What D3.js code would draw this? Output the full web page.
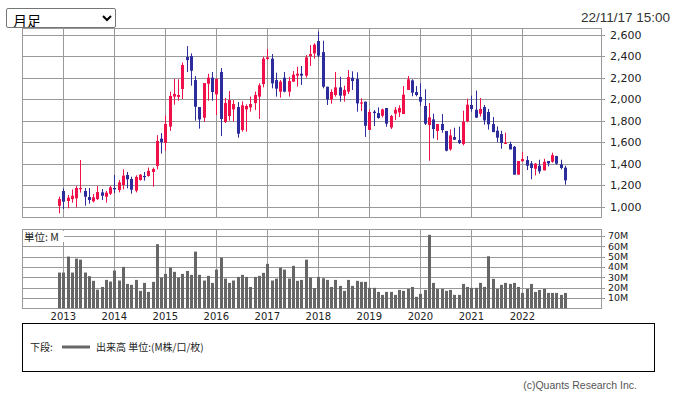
<!DOCTYPE html>
<html><head><meta charset="utf-8">
<script src="https://cdn.jsdelivr.net/npm/d3@7/dist/d3.min.js"></script>
<style>
html,body{margin:0;padding:0;background:#fff;}
#wrap{position:relative;width:676px;height:396px;overflow:hidden;}
svg{position:absolute;left:0;top:0;}
select{position:absolute;left:6px;top:8px;width:110px;height:20px;font-size:14px;font-family:"Noto Sans CJK JP",sans-serif;padding:0 2px;border:1px solid #767676;border-radius:2px;background:#fff;color:#000;}
</style></head>
<body><div id="wrap"><select><option>月足</option></select></div>
<script>
// Monthly candles, Dec 2012 .. Nov 2022
const startMonth = "2012-12";
const open = [1009,1146,1053,1071,1078,1165,1146,1090,1050,1071,
1133,1093,1121,1174,1155,1202,1295,1258,1149,1248,
1286,1286,1323,1379,1633,1593,1745,2024,2021,2095,
2392,2401,2178,1927,1828,2144,2200,2045,2253,1788,
1843,1905,1927,1713,1905,1924,1964,2024,2141,2374,
2377,2178,2070,2200,2070,2163,2219,2237,2219,2401,
2426,2541,2438,2116,1998,2039,2110,2033,2070,2200,
2188,1961,1977,1714,1884,1871,1846,1918,1738,1865,
1877,1862,2086,2175,2067,2021,1937,1760,1812,1704,
1769,1704,1534,1648,1620,1583,1794,1946,1902,1865,
1927,1881,1769,1707,1676,1589,1583,1558,1298,1422,
1434,1403,1353,1381,1338,1425,1418,1471,1394,1363];
const high = [1093,1171,1109,1161,1192,1434,1174,1174,1118,1192,
1164,1146,1195,1295,1248,1348,1323,1279,1292,1304,
1323,1364,1364,1665,1685,1848,2071,2188,2185,2340,
2494,2426,2216,1927,2150,2237,2253,2194,2290,2011,
2076,1992,1974,1980,1952,2024,2071,2148,2396,2467,
2420,2247,2178,2253,2209,2262,2302,2309,2411,2504,
2520,2630,2544,2116,2092,2253,2209,2126,2271,2259,
2250,2008,1977,1905,1899,1924,1912,1918,1853,1927,
1943,2122,2216,2185,2122,2148,2092,1964,1865,1769,
1862,1704,1719,1735,1744,1893,2005,2033,2080,2011,
1946,1909,1834,1747,1707,1689,1605,1564,1425,1508,
1471,1425,1406,1437,1446,1425,1502,1474,1437,1381];
const low = [938,979,985,1037,994,1131,1009,1028,1040,1062,
1062,1037,1109,1127,1133,1161,1171,1121,1133,1242,
1242,1279,1186,1348,1494,1519,1705,1949,1986,2002,
2253,2126,1800,1726,1791,1986,1986,1853,1657,1779,
1800,1791,1642,1698,1698,1884,1899,1816,2110,2365,
2101,2024,2014,2064,2024,2163,2117,2132,2200,2309,
2377,2390,2101,1946,1958,2024,1977,1977,2048,2086,
1884,1890,1649,1714,1750,1819,1831,1744,1723,1806,
1834,1862,2086,2027,2027,1937,1760,1428,1635,1620,
1688,1515,1521,1620,1583,1570,1785,1884,1828,1840,
1763,1717,1694,1598,1539,1583,1533,1298,1298,1422,
1341,1255,1291,1307,1338,1375,1409,1391,1347,1205];
const close = [1071,1047,1084,1102,1174,1174,1093,1062,1087,1136,
1102,1130,1180,1161,1226,1289,1255,1158,1277,1298,
1276,1333,1351,1612,1602,1770,2030,2049,2039,2318,
2364,2265,1930,1812,2150,2200,2067,2188,1816,1964,
1992,1955,1679,1943,1937,1955,2039,2129,2377,2389,
2147,2098,2163,2070,2169,2228,2237,2219,2389,2420,
2507,2405,2116,1998,2067,2110,2033,2086,2206,2169,
1961,1970,1753,1881,1871,1825,1905,1772,1843,1902,
1918,2042,2185,2061,2039,1977,1772,1831,1722,1769,
1713,1521,1663,1623,1592,1791,1949,1909,1828,1909,
1803,1766,1694,1642,1592,1595,1533,1298,1425,1443,
1381,1360,1400,1329,1418,1403,1480,1400,1360,1245];
// Volume, millions
const volume = [34.5,34.5,50,34.5,48,47,34.5,31,26.5,18,
20.6,27.4,25.8,36.5,26.8,40,23.5,22.6,27.4,16.8,
24.5,15.8,25.5,62,29.7,33.2,39.4,35.2,29.7,33.2,
36.1,32.3,54.8,32.3,26.8,31.3,24.5,37.4,49,28.7,
24.5,26.8,30.3,32.3,30.3,20.6,30.3,31.3,34.2,42.9,
26.8,28.7,39.4,37.4,28.7,41,26.5,27.4,47,29.7,
19.4,30.3,29,27.4,20.6,27.4,21.6,16.8,27.4,21.6,
26.5,25.5,25.5,19.7,19.7,15.8,12.9,15.8,15.8,12.9,
17.7,16.8,18.7,20.6,11,13.9,17.7,71,24.5,18.7,
18.7,16.8,17.7,12.9,12.9,23.5,20.6,19.7,19.7,24.5,
20.6,50.3,28.4,18.7,22.6,24.5,23.5,24.5,20.6,14.8,
18.7,23.5,15.8,17.7,18.7,14.8,14.8,14.8,12.9,14.8];
const yearLabels = ["2013","2014","2015","2016","2017","2018","2019","2020","2021","2022"];
const priceTicks = [1000,1200,1400,1600,1800,2000,2200,2400,2600];
const volTicks = [10,20,30,40,50,60,70];
const dateText = "22/11/17 15:00";

const W = 676, H = 396;
const svg = d3.select("#wrap").insert("svg","select").attr("width",W).attr("height",H);
svg.append("rect").attr("width",W).attr("height",H).attr("fill","#fff");

const L = 22, R = 601;
const pTop = 28.5, pBot = 217.5, vTop = 229.5, vBot = 308.5;
const n = close.length;
// month index -> x (index 0 = startMonth)
const x = d3.scaleLinear().domain([-8.72, 127.5]).range([L, R]);
const y = d3.scaleLinear().domain([1000, 2600]).range([206.7, 34.7]);
const yv = d3.scaleLinear().domain([0, 70]).range([308.2, 235.9]);
const yearIdx = yearLabels.map((d,i)=>1 + 12*i);
const grid = "#999";

// price panel
const gp = svg.append("g");
gp.selectAll("line.h").data(priceTicks).join("line")
  .attr("x1",L).attr("x2",R+4).attr("y1",d=>Math.round(y(d))+0.5).attr("y2",d=>Math.round(y(d))+0.5)
  .attr("stroke",grid);
gp.selectAll("line.v").data(yearIdx).join("line")
  .attr("x1",d=>Math.round(x(d))+0.5).attr("x2",d=>Math.round(x(d))+0.5).attr("y1",pTop).attr("y2",pBot)
  .attr("stroke",grid);
gp.append("rect").attr("x",L+0.5).attr("y",pTop).attr("width",R-L).attr("height",pBot-pTop)
  .attr("fill","none").attr("stroke",grid);
gp.selectAll("text").data(priceTicks).join("text")
  .attr("x",610).attr("y",d=>y(d)+4).text(d3.format(","))
  .attr("font-family","DejaVu Sans").attr("font-size",11).attr("fill","#222");

const idx = d3.range(n);
const red = "#f0104a", blue = "#2c2c9c";
const col = i => close[i] >= open[i] ? red : blue;
const gc = svg.append("g");
gc.selectAll("line").data(idx).join("line")
  .attr("x1",i=>Math.round(x(i))+0.5).attr("x2",i=>Math.round(x(i))+0.5)
  .attr("y1",i=>y(high[i])).attr("y2",i=>y(low[i])).attr("stroke",col);
gc.selectAll("rect").data(idx).join("rect")
  .attr("x",i=>Math.round(x(i))-1).attr("width",3)
  .attr("y",i=>y(Math.max(open[i],close[i])))
  .attr("height",i=>Math.max(1.2, Math.abs(y(open[i])-y(close[i]))))
  .attr("fill",col);

// volume panel
const gv = svg.append("g");
gv.selectAll("line.h").data(volTicks).join("line")
  .attr("x1",L).attr("x2",R+4).attr("y1",d=>Math.round(yv(d))+0.5).attr("y2",d=>Math.round(yv(d))+0.5)
  .attr("stroke",grid);
gv.selectAll("line.v").data(yearIdx).join("line")
  .attr("x1",d=>Math.round(x(d))+0.5).attr("x2",d=>Math.round(x(d))+0.5).attr("y1",vTop).attr("y2",vBot)
  .attr("stroke",grid);
gv.append("rect").attr("x",L+0.5).attr("y",vTop).attr("width",R-L).attr("height",vBot-vTop)
  .attr("fill","none").attr("stroke",grid);
gv.selectAll("rect.b").data(idx).join("rect")
  .attr("x",i=>Math.round(x(i))-1).attr("width",3)
  .attr("y",i=>yv(volume[i])).attr("height",i=>yv(0)-yv(volume[i]))
  .attr("fill","#666");
gv.selectAll("text.t").data(volTicks).join("text")
  .attr("x",608).attr("y",d=>yv(d)+3.5).text(d=>d+"M")
  .attr("font-family","DejaVu Sans").attr("font-size",9.5).attr("fill","#222");
gv.append("rect").attr("x",23).attr("y",231).attr("width",41).attr("height",11).attr("fill","#fff");
gv.append("text").attr("x",24).attr("y",240.5).text("単位: M")
  .attr("font-family","Noto Sans CJK JP").attr("font-size",10.5).attr("fill","#222");
gv.selectAll("text.y").data(yearLabels).join("text")
  .attr("x",(d,i)=>x(yearIdx[i])).attr("y",320).attr("text-anchor","middle").text(d=>d)
  .attr("font-family","DejaVu Sans").attr("font-size",10).attr("fill","#222");

// header
svg.append("text").attr("x",670).attr("y",22).attr("text-anchor","end").text(dateText)
  .attr("font-family","Liberation Sans").attr("font-size",13.5).attr("fill","#333");

// legend
svg.append("rect").attr("x",22.5).attr("y",323.5).attr("width",632).attr("height",48)
  .attr("fill","none").attr("stroke","#000");
svg.append("text").attr("x",30).attr("y",351).text("下段:")
  .attr("font-family","Noto Sans CJK JP").attr("font-size",10).attr("fill","#222");
svg.append("line").attr("x1",62).attr("x2",90).attr("y1",347).attr("y2",347)
  .attr("stroke","#666").attr("stroke-width",3);
svg.append("text").attr("x",96).attr("y",351).text("出来高 単位:(M株/口/枚)")
  .attr("font-family","Noto Sans CJK JP").attr("font-size",10).attr("fill","#222");
svg.append("text").attr("x",637).attr("y",389).attr("text-anchor","end").text("(c)Quants Research Inc.")
  .attr("font-family","Liberation Sans").attr("font-size",10.5).attr("fill","#555");
</script></body></html>
